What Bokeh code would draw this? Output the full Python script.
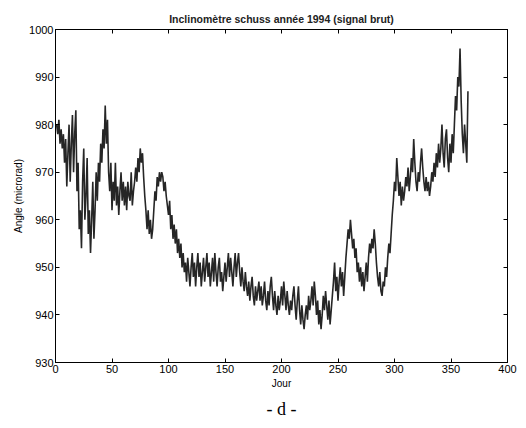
from bokeh.plotting import figure
from bokeh.models import LinearAxis, Title, FixedTicker, Range1d
from bokeh.embed import file_html
from bokeh.resources import INLINE

title_text = "Inclinomètre schuss année 1994 (signal brut)"
x_label = "Jour"
y_label = "Angle (microrad)"
caption = "- d -"
x_ticks = [0, 50, 100, 150, 200, 250, 300, 350, 400]
y_ticks = [930, 940, 950, 960, 970, 980, 990, 1000]

angle = [
    980, 978, 981, 976, 979, 975, 978, 972, 977, 967,
    974, 980, 968, 976, 982, 970, 978, 983, 966, 972,
    958, 962, 954, 968, 975, 960, 965, 973, 957, 962,
    953, 960, 968, 956, 962, 970, 964, 972, 968, 976,
    972, 979, 975, 984, 976, 981, 970, 966, 972, 962,
    968, 964, 972, 963, 967, 961, 966, 970, 964, 968,
    963, 967, 962, 968, 965, 964, 970, 963, 966, 968,
    971, 968, 973, 970, 975, 972, 974, 969, 965, 962,
    958, 962, 957, 960, 956, 958, 962, 966, 964, 969,
    967, 970, 968, 970, 969, 966, 968, 965, 963, 961,
    964, 958, 961, 956, 959, 955, 958, 953, 956, 952,
    955, 950, 953, 949, 951, 947, 952, 949, 946, 950,
    953, 948, 951, 946, 950, 953, 948, 951, 946, 949,
    952, 947, 950, 953, 948, 951, 946, 949, 952, 947,
    953, 949, 946, 950, 952, 947, 949, 945, 948, 951,
    947, 950, 953, 948, 952, 949, 946, 950, 953, 948,
    951, 953, 949, 946, 950, 947, 945, 949, 946, 944,
    947, 943, 946, 948, 944, 942, 946, 943, 945, 947,
    943, 946, 942, 944, 947, 943, 941, 945, 942, 946,
    948, 944, 941, 945, 942, 940, 944, 941, 943, 946,
    942, 947, 944, 941, 945, 942, 940, 943, 941, 944,
    946, 942, 939, 943, 946, 941, 938, 942, 939, 937,
    940, 942, 939, 944, 941, 943, 946, 942, 947, 944,
    940, 943, 938, 941, 937, 940, 944, 941, 945, 942,
    939, 943, 938, 941, 944, 947, 951, 945, 948, 943,
    947, 950, 946, 949, 944, 948, 952, 955, 958, 956,
    960, 957, 954, 956, 952, 954, 949, 951, 947, 950,
    946, 949, 945, 948, 951, 947, 952, 955, 953, 956,
    954, 958, 955, 951, 948, 946, 949, 945, 944, 947,
    946, 950, 948, 952, 955, 953, 957, 961, 964, 968,
    966, 973, 969, 965, 968, 963, 967, 964, 966, 969,
    967, 971, 966, 969, 973, 970, 977, 972, 968, 966,
    970, 968, 972, 975, 971, 968, 966, 969, 966, 968,
    965, 967, 970, 968, 972, 969, 974, 971, 976, 972,
    975, 980, 974, 971, 977, 979, 973, 970, 976, 972,
    978, 974, 980, 986, 983, 990, 988, 996, 985, 978,
    974, 980, 976, 972, 987,
]
days = list(range(1, len(angle) + 1))

FONT = "Liberation Sans"

p = figure(width=526, height=428, output_backend="svg", toolbar_location=None,
           x_range=Range1d(0, 400), y_range=Range1d(930, 1000),
           min_border_left=55, min_border_right=19, min_border_top=29,
           min_border_bottom=66, background_fill_color="white",
           border_fill_color="white")

p.line(days, angle, line_color="#262626", line_width=1.6)

p.xgrid.visible = False
p.ygrid.visible = False
p.outline_line_color = "black"
p.outline_line_width = 1

def style_axis(ax, labels=True):
    ax.axis_line_color = "black"
    ax.major_tick_in = 4
    ax.major_tick_out = 0
    ax.minor_tick_line_color = None
    ax.major_tick_line_color = "black"
    ax.major_label_text_font = FONT
    ax.major_label_text_font_size = "11px"
    ax.major_label_text_color = "black" if labels else None
    ax.major_label_standoff = 2

p.xaxis.ticker = FixedTicker(ticks=x_ticks)
p.yaxis.ticker = FixedTicker(ticks=y_ticks)
style_axis(p.xaxis[0])
style_axis(p.yaxis[0])
p.xaxis.axis_label = x_label
p.yaxis.axis_label = y_label
for ax in (p.xaxis[0], p.yaxis[0]):
    ax.axis_label_text_font = FONT
    ax.axis_label_text_font_size = "10px"
    ax.axis_label_text_font_style = "normal"
    ax.axis_label_text_color = "black"
    ax.axis_label_standoff = 2

top = LinearAxis(ticker=FixedTicker(ticks=x_ticks))
style_axis(top, labels=False)
top.major_label_text_font_size = "0px"
p.add_layout(top, "above")
right = LinearAxis(ticker=FixedTicker(ticks=y_ticks))
style_axis(right, labels=False)
right.major_label_text_font_size = "0px"
p.add_layout(right, "right")

p.title = Title(text=title_text, align="center", text_font=FONT,
                text_font_size="10.5px", text_font_style="bold",
                text_color="#222222", offset=0)

cap = Title(text=caption, align="center", text_font="Liberation Serif",
            text_font_size="18px", text_font_style="normal", text_color="black")
p.add_layout(cap, "below")

open("out.html", "w").write(file_html(p, INLINE))
